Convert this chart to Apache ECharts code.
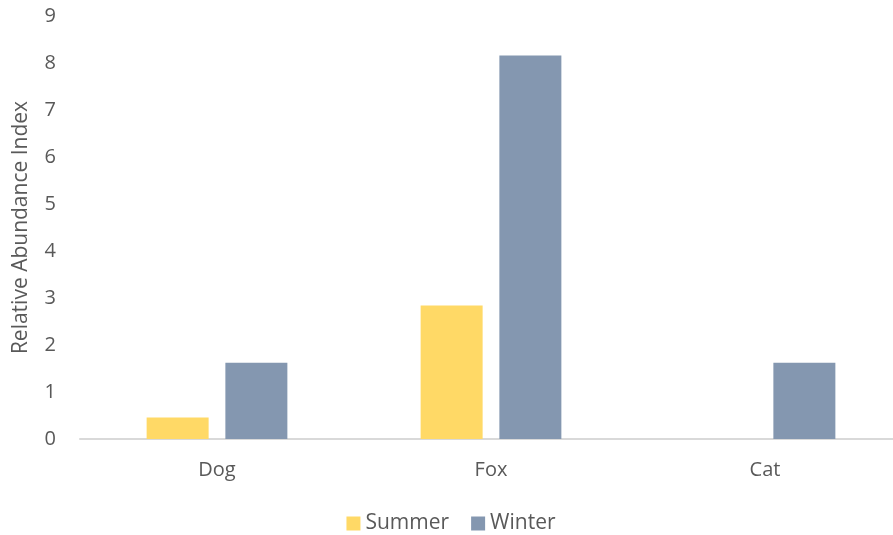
<!DOCTYPE html>
<html><head><meta charset="utf-8">
<script src="https://cdn.jsdelivr.net/npm/echarts@6/dist/echarts.min.js"></script>
<style>html,body{margin:0;padding:0;background:#fff;overflow:hidden}#c{width:902px;height:535px}</style>
</head><body><div id="c"></div>
<script>
const categories = ['Dog', 'Fox', 'Cat'];
const summer = [0.46, 2.84, 0];
const winter = [1.62, 8.16, 1.62];
const font = 'Open Sans, Liberation Sans, sans-serif';
const chart = echarts.init(document.getElementById('c'));
chart.setOption({
  animation: false,
  grid: {left: 80, right: 0, top: 16, bottom: 96},
  legend: {
    top: 508, left: 'center', itemWidth: 14, itemHeight: 14, itemGap: 22,
    icon: 'rect',
    textStyle: {fontFamily: font, fontSize: 21, color: '#595959'},
    data: ['Summer', 'Winter']
  },
  xAxis: {
    type: 'category', data: categories,
    axisLine: {lineStyle: {color: '#D9D9D9', width: 2}},
    axisTick: {show: false},
    axisLabel: {fontFamily: font, fontSize: 20, color: '#595959', margin: 21}
  },
  yAxis: {
    type: 'value', min: 0, max: 9, interval: 1,
    name: 'Relative Abundance Index', nameLocation: 'middle', nameGap: 48,
    nameTextStyle: {fontFamily: font, fontSize: 21, color: '#595959'},
    axisLine: {show: false}, axisTick: {show: false}, splitLine: {show: false},
    axisLabel: {fontFamily: font, fontSize: 20, color: '#595959', margin: 24}
  },
  series: [
    {name: 'Summer', type: 'bar', data: summer, barWidth: 62, barGap: '27%', itemStyle: {color: '#FFD966'}},
    {name: 'Winter', type: 'bar', data: winter, barWidth: 62, barGap: '27%', itemStyle: {color: '#8497B0'}}
  ]
});
</script></body></html>
